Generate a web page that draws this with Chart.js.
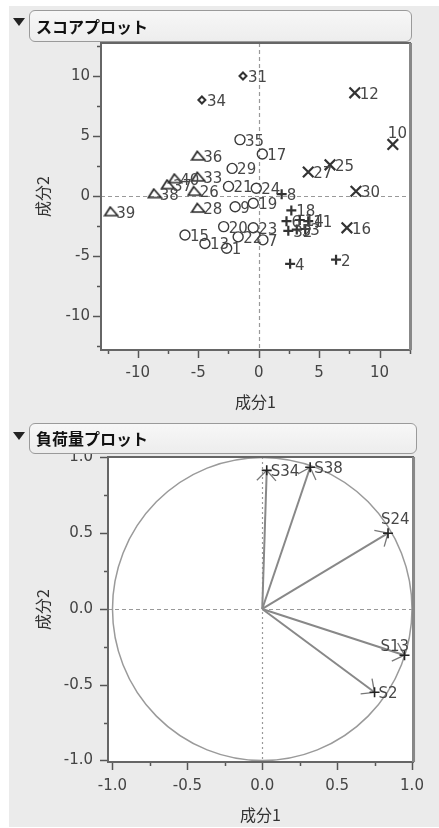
<!DOCTYPE html>
<html><head><meta charset="utf-8">
<script src="https://cdn.jsdelivr.net/npm/chart.js@4/dist/chart.umd.min.js"></script>
<style>
html,body{margin:0;padding:0;background:#fff;width:439px;height:828px;overflow:hidden;position:relative;}
#panel{position:absolute;left:9px;top:6px;width:430px;height:821px;background:#ebebeb;}
.hdr{position:absolute;left:29px;border:1px solid #9a9a9a;border-radius:6px;background:linear-gradient(#f7f7f7,#ededed);box-sizing:border-box;font:bold 16px "Noto Sans CJK JP";color:#111;padding-left:6px;z-index:5;}
.tri{position:absolute;left:13px;width:0;height:0;border-left:6px solid transparent;border-right:6px solid transparent;border-top:8px solid #222;z-index:5}
.wrap{position:absolute;left:0;width:439px;}
canvas{display:block}
</style></head>
<body>
<div id="panel"></div>
<div class="wrap" style="top:0;height:415px"><canvas id="c1" width="439" height="415"></canvas></div>
<div class="wrap" style="top:415px;height:413px"><canvas id="c2" width="439" height="413"></canvas></div>
<div class="tri" style="top:18px"></div>
<div class="hdr" style="top:10px;width:383px;height:32px;line-height:30px">スコアプロット</div>
<div class="tri" style="top:432px"></div>
<div class="hdr" style="top:423px;width:388px;height:31px;line-height:29px">負荷量プロット</div>
<script>
// ---------- data: score plot ----------
const circleLabels = ['35','17','29','21','24','19','9','20','23','22','7','15','13','1'];
const circleX = [-1.55, 0.3, -2.2, -2.5, -0.2, -0.45, -1.95, -2.9, -0.45, -1.7, 0.35, -6.1, -4.45, -2.65];
const circleY = [4.7, 3.5, 2.3, 0.8, 0.65, -0.6, -0.9, -2.55, -2.65, -3.4, -3.65, -3.25, -3.95, -4.35];

const triangleLabels = ['36','40','33','37','26','38','28','39'];
const triangleX = [-5.0, -6.9, -5.0, -7.5, -5.3, -8.6, -5.0, -12.2];
const triangleY = [3.35, 1.45, 1.6, 0.95, 0.4, 0.2, -1.0, -1.3];

const diamondLabels = ['31','34'];
const diamondX = [-1.3, -4.7];
const diamondY = [10.0, 8.0];

const xMarkLabels = ['12','10','25','27','30','16'];
const xMarkX = [7.95, 11.1, 5.9, 4.1, 8.05, 7.3];
const xMarkY = [8.6, 4.3, 2.6, 2.0, 0.4, -2.65];

const plusLabels = ['8','18','6','14','11','32','5','3','4','2'];
const plusX = [1.9, 2.7, 2.3, 3.4, 4.1, 2.45, 3.15, 3.85, 2.6, 6.4];
const plusY = [0.15, -1.2, -2.1, -2.0, -2.1, -2.9, -2.8, -2.75, -5.65, -5.3];

const scoreTickLabels = [-10, -5, 0, 5, 10];

// ---------- data: loading plot ----------
const loadingNames = ['S34','S38','S24','S13','S2'];
const loadingX = [0.03, 0.32, 0.84, 0.95, 0.75];
const loadingY = [0.915, 0.935, 0.50, -0.305, -0.55];
const loadingTickLabels = [-1.0, -0.5, 0.0, 0.5, 1.0];

// ---------- helpers ----------
const pts = (xs, ys) => xs.map((x, i) => ({x, y: ys[i]}));
const tickFont = {family: 'DejaVu Sans', size: 15};
const titleFont = {family: 'Noto Sans CJK JP', size: 16};
const TICK_COL = '#444';

function triImg(){
  const c = document.createElement('canvas'); c.width = 16; c.height = 12;
  const g = c.getContext('2d'); g.strokeStyle = '#2a2a2a'; g.lineWidth = 1.7;
  g.beginPath(); g.moveTo(7, 1.5); g.lineTo(14.5, 10); g.lineTo(1.5, 10); g.closePath(); g.stroke();
  return c;
}

function isLabel(v, list){ return list.some(t => Math.abs(t - v) < 1e-9); }

function drawFrameAndTicks(chart){
  const {ctx, chartArea: a, scales: {x, y}} = chart;
  ctx.save();
  ctx.strokeStyle = '#555'; ctx.lineWidth = 1.5;
  x.ticks.forEach(t => {
    const p = Math.round(x.getPixelForValue(t.value)) + 0.5;
    const len = t.label !== '' ? 8 : 4;
    ctx.beginPath(); ctx.moveTo(p, a.bottom); ctx.lineTo(p, a.bottom + len); ctx.stroke();
  });
  y.ticks.forEach(t => {
    const p = Math.round(y.getPixelForValue(t.value)) + 0.5;
    const len = t.label !== '' ? 8 : 4;
    ctx.beginPath(); ctx.moveTo(a.left - len, p); ctx.lineTo(a.left, p); ctx.stroke();
  });
  ctx.strokeStyle = '#666'; ctx.lineWidth = 2;
  ctx.strokeRect(a.left, a.top, a.right - a.left, a.bottom - a.top);
  ctx.strokeStyle = '#888'; ctx.lineWidth = 3;
  ctx.beginPath(); ctx.moveTo(a.right + 0.5, a.top); ctx.lineTo(a.right + 0.5, a.bottom); ctx.stroke();
  ctx.restore();
}

function whiteArea(chart){
  const {ctx, chartArea: a} = chart;
  ctx.save(); ctx.fillStyle = '#fff'; ctx.fillRect(a.left, a.top, a.right - a.left, a.bottom - a.top); ctx.restore();
}

function zeroLines(chart, vDash, hDash, col){
  const {ctx, chartArea: a, scales: {x, y}} = chart;
  const x0 = Math.round(x.getPixelForValue(0)) + 0.5, y0 = Math.round(y.getPixelForValue(0)) + 0.5;
  ctx.save(); ctx.strokeStyle = col; ctx.lineWidth = 1.2;
  ctx.setLineDash(hDash); ctx.beginPath(); ctx.moveTo(a.left, y0); ctx.lineTo(a.right, y0); ctx.stroke();
  ctx.setLineDash(vDash); ctx.beginPath(); ctx.moveTo(x0, a.top); ctx.lineTo(x0, a.bottom); ctx.stroke();
  ctx.restore();
}

const noGrid = {display: false, drawTicks: false};

// ---------- score plot ----------
const scorePlugin = {
  id: 'scorePlugin',
  beforeDraw: whiteArea,
  beforeDatasetsDraw(chart){ zeroLines(chart, [4,3], [4,3], '#999'); },
  afterDatasetsDraw(chart){
    const {ctx} = chart;
    const special = {'10': [-5, -10]};
    ctx.save(); ctx.font = '15px "DejaVu Sans"'; ctx.fillStyle = '#474747'; ctx.textBaseline = 'middle';
    chart.data.datasets.forEach((ds, i) => {
      const meta = chart.getDatasetMeta(i);
      meta.data.forEach((el, j) => {
        const lab = ds.pointLabels[j];
        const off = special[lab] || [5, 2];
        ctx.fillText(lab, el.x + off[0], el.y + off[1]);
      });
    });
    ctx.restore();
  },
  afterDraw: drawFrameAndTicks
};

new Chart(document.getElementById('c1'), {
  type: 'scatter',
  data: {datasets: [
    {data: pts(circleX, circleY), pointLabels: circleLabels, pointStyle: 'circle', pointRadius: 5, borderColor: '#3a3a3a', backgroundColor: 'rgba(0,0,0,0)', borderWidth: 1.4},
    {data: pts(triangleX, triangleY), pointLabels: triangleLabels, pointStyle: triImg(), pointRadius: 6},
    {data: pts(diamondX, diamondY), pointLabels: diamondLabels, pointStyle: 'rectRot', pointRadius: 3.5, borderColor: '#333', backgroundColor: '#fff', borderWidth: 2},
    {data: pts(xMarkX, xMarkY), pointLabels: xMarkLabels, pointStyle: 'crossRot', pointRadius: 7.5, borderColor: '#333', borderWidth: 2.2},
    {data: pts(plusX, plusY), pointLabels: plusLabels, pointStyle: 'cross', pointRadius: 5, borderColor: '#333', borderWidth: 2.2}
  ]},
  options: {
    responsive: false, animation: false, devicePixelRatio: 1,
    layout: {padding: {left: 0, right: 29, top: 43, bottom: 0}},
    plugins: {legend: {display: false}, tooltip: {enabled: false}},
    scales: {
      x: {type: 'linear', min: -13.05, max: 12.52,
        ticks: {stepSize: 2.5, includeBounds: false, autoSkip: false, maxRotation: 0, font: tickFont, color: TICK_COL, padding: 14,
          callback: v => isLabel(v, scoreTickLabels) ? String(v) : ''},
        grid: noGrid, border: {display: false},
        title: {display: true, text: '成分1', font: titleFont, color: '#333', padding: {top: 0, bottom: 3}},
        afterFit(s){ s.height = 65; }},
      y: {type: 'linear', min: -12.83, max: 12.75,
        ticks: {stepSize: 2.5, includeBounds: false, autoSkip: false, font: tickFont, color: TICK_COL, padding: 11,
          callback: v => isLabel(v, scoreTickLabels) ? String(v) : ''},
        grid: noGrid, border: {display: false},
        title: {display: true, text: '成分2', font: titleFont, color: '#333', padding: {top: 33, bottom: 0}},
        afterFit(s){ s.width = 101; }}
    }
  },
  plugins: [scorePlugin]
});

// ---------- loading plot ----------
const loadPlugin = {
  id: 'loadPlugin',
  beforeDraw: whiteArea,
  beforeDatasetsDraw(chart){
    const {ctx, scales: {x, y}} = chart;
    zeroLines(chart, [2,3], [4,3], '#999');
    const x0 = x.getPixelForValue(0), y0 = y.getPixelForValue(0);
    const rx = x.getPixelForValue(1) - x0, ry = y0 - y.getPixelForValue(1);
    ctx.save();
    ctx.strokeStyle = '#9a9a9a'; ctx.lineWidth = 1.5;
    ctx.beginPath(); ctx.ellipse(x0, y0, rx, ry, 0, 0, Math.PI * 2); ctx.stroke();
    const meta = chart.getDatasetMeta(0);
    meta.data.forEach(el => {
      ctx.strokeStyle = '#888'; ctx.lineWidth = 2;
      ctx.beginPath(); ctx.moveTo(x0, y0); ctx.lineTo(el.x, el.y); ctx.stroke();
      const ang = Math.atan2(y0 - el.y, x0 - el.x);
      ctx.lineWidth = 1.3; ctx.strokeStyle = '#777';
      [-0.75, 0.75].forEach(d => {
        ctx.beginPath(); ctx.moveTo(el.x, el.y);
        ctx.lineTo(el.x + 14 * Math.cos(ang + d), el.y + 14 * Math.sin(ang + d)); ctx.stroke();
      });
    });
    ctx.restore();
  },
  afterDatasetsDraw(chart){
    const {ctx} = chart;
    const special = {'S24': [-7, -13], 'S13': [-24, -8]};
    ctx.save(); ctx.font = '15px "DejaVu Sans"'; ctx.fillStyle = '#474747'; ctx.textBaseline = 'middle';
    const meta = chart.getDatasetMeta(0);
    meta.data.forEach((el, j) => {
      const lab = loadingNames[j];
      const off = special[lab] || [4, 2];
      ctx.fillText(lab, el.x + off[0], el.y + off[1]);
    });
    ctx.restore();
  },
  afterDraw: drawFrameAndTicks
};

new Chart(document.getElementById('c2'), {
  type: 'scatter',
  data: {datasets: [
    {data: pts(loadingX, loadingY), pointStyle: 'cross', pointRadius: 5, borderColor: '#222', borderWidth: 1.6}
  ]},
  options: {
    responsive: false, animation: false, devicePixelRatio: 1,
    layout: {padding: {left: 0, right: 23, top: 42, bottom: 0}},
    plugins: {legend: {display: false}, tooltip: {enabled: false}},
    scales: {
      x: {type: 'linear', min: -1.03, max: 1.007,
        ticks: {stepSize: 0.25, includeBounds: false, autoSkip: false, maxRotation: 0, font: tickFont, color: TICK_COL, padding: 15,
          callback: v => isLabel(v, loadingTickLabels) ? v.toFixed(1) : ''},
        grid: noGrid, border: {display: false},
        title: {display: true, text: '成分1', font: titleFont, color: '#333', padding: {top: 0, bottom: 3}},
        afterFit(s){ s.height = 66; }},
      y: {type: 'linear', min: -1.01, max: 1.003,
        ticks: {stepSize: 0.25, includeBounds: false, autoSkip: false, font: tickFont, color: TICK_COL, padding: 15,
          callback: v => isLabel(v, loadingTickLabels) ? v.toFixed(1) : ''},
        grid: noGrid, border: {display: false},
        title: {display: true, text: '成分2', font: titleFont, color: '#333', padding: {top: 33, bottom: 0}},
        afterFit(s){ s.width = 108; }}
    }
  },
  plugins: [loadPlugin]
});
</script>
</body></html>
